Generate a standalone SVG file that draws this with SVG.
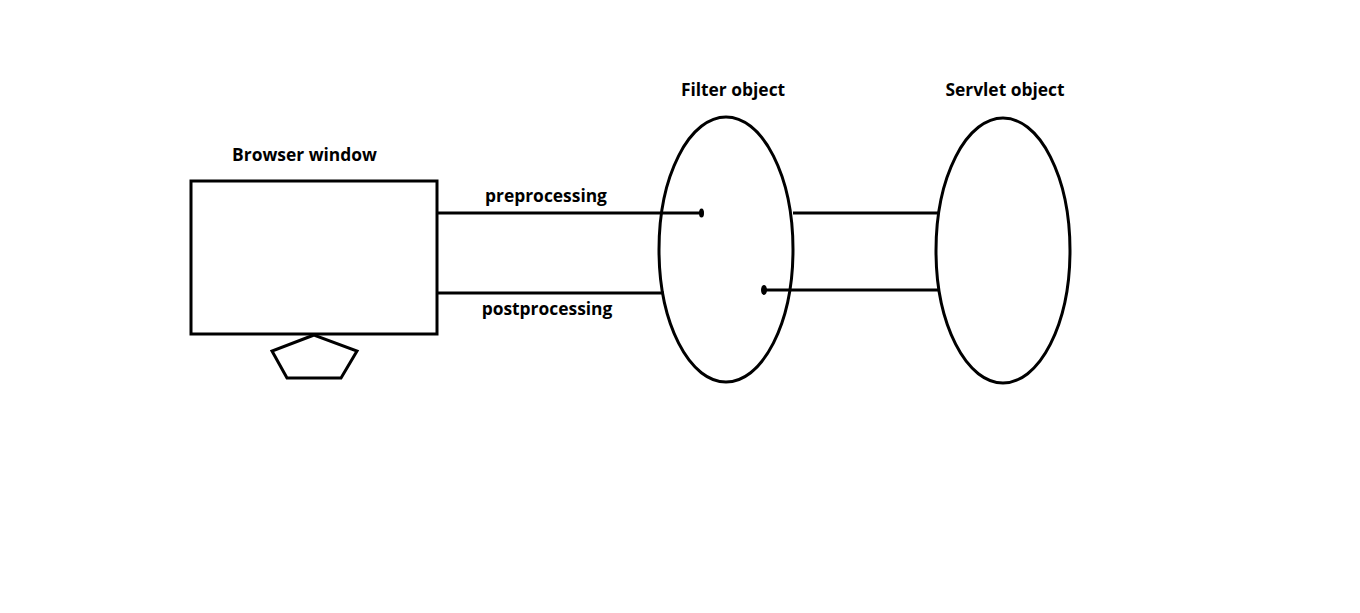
<svg xmlns="http://www.w3.org/2000/svg" width="1360" height="613" viewBox="0 0 1360 613">
<style>
.s{fill:none;stroke:#000;stroke-width:3}
.t{font-family:"Open Sans","Noto Sans","Liberation Sans",sans-serif;font-weight:bold;font-size:17.4px;fill:#000;text-anchor:middle}
.d{fill:#000}
</style>
<rect width="1360" height="613" fill="#fff"/>
<g id="browser">
<rect class="s" x="191" y="181" width="246" height="153"/>
<polygon class="s" points="314,335 272,351 287,378 341,378 357,351"/>
<text class="t" x="304.5" y="161">Browser window</text>
</g>
<g id="filter">
<ellipse class="s" cx="726" cy="249.5" rx="67" ry="132.5"/>
<text class="t" x="733" y="96">Filter object</text>
</g>
<g id="servlet">
<ellipse class="s" cx="1003" cy="250.5" rx="67" ry="132.5"/>
<text class="t" x="1005" y="96">Servlet object</text>
</g>
<g id="connectors">
<line class="s" x1="437" y1="213" x2="701" y2="213"/>
<ellipse class="d" cx="701.5" cy="213" rx="2.5" ry="4.5"/>
<text class="t" x="546" y="202">preprocessing</text>
<line class="s" x1="437" y1="293" x2="664" y2="293"/>
<text class="t" x="547" y="315">postprocessing</text>
<line class="s" x1="793" y1="213" x2="938" y2="213"/>
<line class="s" x1="764" y1="290" x2="938" y2="290"/>
<ellipse class="d" cx="764" cy="290" rx="3" ry="5"/>
</g>
</svg>
